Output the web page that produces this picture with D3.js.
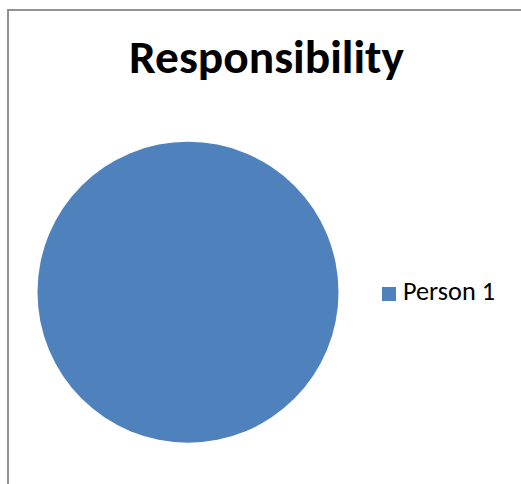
<!DOCTYPE html>
<html>
<head>
<meta charset="utf-8">
<script src="https://cdn.jsdelivr.net/npm/d3@7"></script>
<style>
  html, body { margin: 0; padding: 0; background: #fff; }
  svg { display: block; }
</style>
</head>
<body>
<svg id="chart" width="521" height="484"></svg>
<script>
const categories = ["Person 1"];
const values = [100];
const colors = ["#4F81BD"];
const title = "Responsibility";

const svg = d3.select("#chart");
const W = 521, H = 484;

// chart frame (clipped at right and bottom)
svg.append("rect")
  .attr("x", 8).attr("y", 10)
  .attr("width", W + 20).attr("height", H + 20)
  .attr("fill", "#fff")
  .attr("stroke", "#878787")
  .attr("stroke-width", 1.8);

const fontFamily = "Carlito, Calibri, 'Open Sans', 'Noto Sans', sans-serif";

function fitText(sel, targetWidth, startSize) {
  let size = startSize;
  sel.style("font-size", size + "px");
  const w = sel.node().getComputedTextLength();
  if (w > 0) {
    size = size * targetWidth / w;
    sel.style("font-size", size + "px");
  }
}

// title
const t = svg.append("text")
  .attr("x", 266.5).attr("y", 72.5)
  .attr("text-anchor", "middle")
  .style("font-family", fontFamily)
  .style("font-weight", "bold")
  .style("fill", "#000")
  .text(title);
fitText(t, 275, 37);

// pie
const cx = 188, cy = 292.2, r = 150.5;
const pie = d3.pie().sort(null).value(d => d)(values);
const arc = d3.arc().innerRadius(0).outerRadius(r);
const color = d3.scaleOrdinal().domain(categories).range(colors);

svg.append("g")
  .attr("transform", `translate(${cx},${cy})`)
  .selectAll("path")
  .data(pie)
  .join("path")
  .attr("d", arc)
  .attr("fill", (d, i) => color(categories[i]));

// legend
const lg = svg.append("g").attr("transform", "translate(382,287)");
const items = lg.selectAll("g").data(categories).join("g")
  .attr("transform", (d, i) => `translate(0,${i * 30})`);
items.append("rect")
  .attr("width", 14).attr("height", 14)
  .attr("fill", d => color(d));
items.append("text")
  .attr("x", 21).attr("y", 13)
  .style("font-family", fontFamily)
  .style("fill", "#000")
  .text(d => d)
  .each(function() { fitText(d3.select(this), 92, 24); });
</script>
</body>
</html>
